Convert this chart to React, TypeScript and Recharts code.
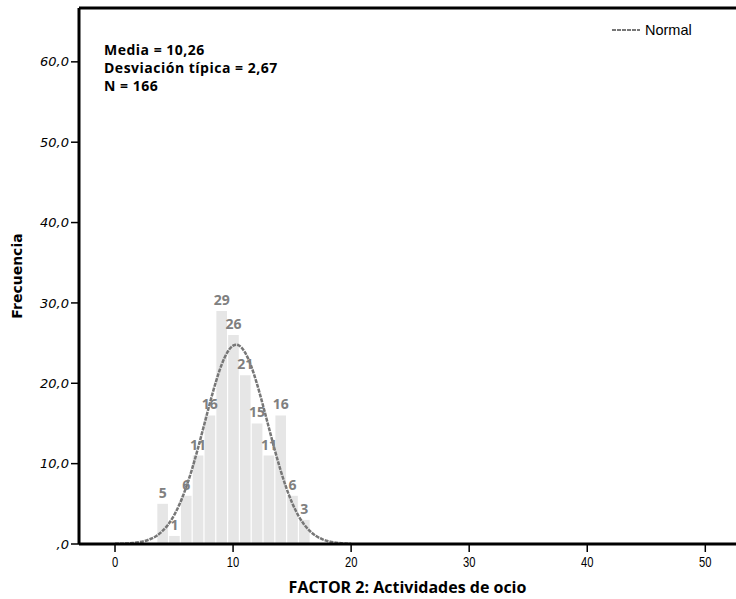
import {
  Bar,
  ComposedChart,
  LabelList,
  Line,
  ReferenceLine,
  XAxis,
  YAxis,
} from "recharts";

// histogram bins (width 1) and frequencies
const binCenters = [4, 5, 6, 7, 8, 9, 10, 11, 12, 13, 14, 15, 16];
const counts = [5, 1, 6, 11, 16, 29, 26, 21, 15, 11, 16, 6, 3];

// normal curve (x, frequency)
const curveX = [
  0, 0.5, 1, 1.5, 2, 2.5, 3, 3.5, 4, 4.5, 5, 5.5, 6, 6.5, 7, 7.5, 8, 8.5, 9,
  9.5, 10, 10.25, 10.5, 11, 11.5, 12, 12.5, 13, 13.5, 14, 14.5, 15, 15.5, 16,
  16.5, 17, 17.5, 18, 18.5, 19, 19.5, 20,
];
const curveY = [
  0.02, 0.03, 0.06, 0.11, 0.21, 0.36, 0.62, 1.0, 1.59, 2.42, 3.56, 5.06, 6.95,
  9.2, 11.77, 14.54, 17.33, 19.96, 22.19, 23.82, 24.68, 24.8, 24.7, 23.87,
  22.27, 20.05, 17.44, 14.65, 11.88, 9.3, 7.03, 5.13, 3.61, 2.46, 1.62, 1.03,
  0.63, 0.37, 0.21, 0.12, 0.06, 0.03,
];

const xTicks = [0, 10, 20, 30, 40, 50];
const yTicks = [0, 10, 20, 30, 40, 50, 60];
const stats = ["Media = 10,26", "Desviación típica = 2,67", "N = 166"];

const X_DOMAIN: [number, number] = [-3.05, 52.6];
const Y_MAX = 66.7;

const bins = binCenters.map((x, i) => ({ x, count: counts[i] }));
const curve = curveX.map((x, i) => ({ x, normal: curveY[i] }));

const boldFont = "'Open Sans', Lato, sans-serif";
const tickFont = "'Liberation Sans', Arial, sans-serif";

function YTitle(props: any) {
  const vb = props.viewBox || { y: 8, height: 536 };
  const cy = vb.y + vb.height / 2;
  return (
    <text
      x={17}
      y={cy}
      transform={`rotate(-90, 17, ${cy})`}
      textAnchor="middle"
      dominantBaseline="central"
      fontFamily="'DejaVu Sans', sans-serif"
      fontWeight={700}
      fontSize={14}
      fill="#000"
    >
      Frecuencia
    </text>
  );
}

// narrow, tall tick numbers like the original export
function XTick(props: any) {
  const { x, y, payload } = props;
  return (
    <g transform={`translate(${x}, ${y + 13}) scale(0.8, 1)`}>
      <text
        x={0}
        y={0}
        textAnchor="middle"
        fontFamily={tickFont}
        fontSize={14}
        fill="#000"
      >
        {payload.value}
      </text>
    </g>
  );
}

export default function App() {
  return (
    <div
      style={{
        position: "absolute",
        left: 0,
        top: 0,
        width: 736,
        height: 599,
        background: "#fff",
        overflow: "hidden",
      }}
    >
      <ComposedChart
        width={736}
        height={599}
        data={bins}
        margin={{ top: 8, right: 0, left: 0, bottom: 0 }}
      >
        <XAxis
          xAxisId="bins"
          dataKey="x"
          type="number"
          domain={X_DOMAIN}
          ticks={xTicks}
          allowDataOverflow
          height={55}
          tickSize={8}
          axisLine={{ stroke: "#000", strokeWidth: 3 }}
          tickLine={{ stroke: "#000", strokeWidth: 1.5 }}
          tick={<XTick />}
          label={{
            value: "FACTOR 2: Actividades de ocio",
            position: "insideBottom",
            offset: 6,
            fill: "#000",
            fontSize: 16,
            fontWeight: 700,
            fontFamily: boldFont,
          }}
        />
        <XAxis
          xAxisId="curve"
          dataKey="x"
          type="number"
          domain={X_DOMAIN}
          allowDataOverflow
          hide
        />
        <YAxis
          type="number"
          domain={[0, Y_MAX]}
          ticks={yTicks}
          allowDataOverflow
          width={79}
          tickSize={8}
          axisLine={{ stroke: "#000", strokeWidth: 3 }}
          tickLine={{ stroke: "#000", strokeWidth: 1.5 }}
          tickFormatter={(v: number) => (v === 0 ? ",0" : `${v},0`)}
          tick={{
            fill: "#000",
            fontSize: 13,
            fontStyle: "italic",
            fontFamily: "'DejaVu Sans', sans-serif",
          }}
          label={<YTitle />}
        />
        <ReferenceLine xAxisId="bins" y={Y_MAX} stroke="#000" strokeWidth={3} />
        <Bar
          xAxisId="bins"
          dataKey="count"
          barSize={12}
          fill="#e6e6e6"
          legendType="none"
          isAnimationActive={false}
        >
          <LabelList
            dataKey="count"
            position="top"
            offset={6}
            fill="#808080"
            fontSize={14}
            fontWeight={700}
            fontFamily={boldFont}
          />
        </Bar>
        <Line
          xAxisId="curve"
          data={curve}
          dataKey="normal"
          name="Normal"
          type="monotone"
          stroke="#777"
          strokeWidth={2.5}
          strokeDasharray="4 1"
          dot={false}
          activeDot={false}
          isAnimationActive={false}
        />
      </ComposedChart>

      <div
        style={{
          position: "absolute",
          left: 104,
          top: 41,
          fontFamily: boldFont,
          fontWeight: 700,
          fontSize: 14,
          letterSpacing: 0.5,
          lineHeight: "18px",
          color: "#000",
          whiteSpace: "nowrap",
        }}
      >
        {stats.map((s) => (
          <div key={s}>{s}</div>
        ))}
      </div>

      <div
        style={{
          position: "absolute",
          left: 612,
          top: 22,
          display: "flex",
          alignItems: "center",
          fontFamily: tickFont,
          fontSize: 14.5,
          lineHeight: "16px",
          color: "#000",
        }}
      >
        <svg width={28} height={6} style={{ marginRight: 5 }}>
          <line
            x1={0}
            y1={3}
            x2={28}
            y2={3}
            stroke="#777"
            strokeWidth={2}
            strokeDasharray="4 1"
          />
        </svg>
        Normal
      </div>
    </div>
  );
}
